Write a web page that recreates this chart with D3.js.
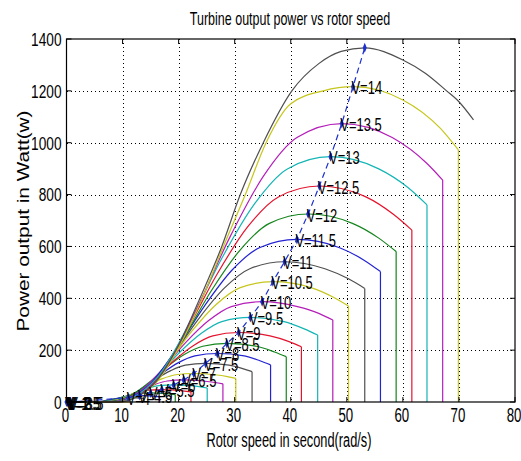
<!DOCTYPE html>
<html>
<head>
<meta charset="utf-8">
<script src="https://cdn.jsdelivr.net/npm/d3@7"></script>
<style>
  body { margin: 0; background: #fff; }
  svg { display: block; font-family: "Liberation Sans", Arial, sans-serif; }
</style>
</head>
<body>
<div id="chart"></div>
<script>
// wind speeds of each curve (m/s)
const speeds = [1, 1.5, 2, 2.5, 3, 3.5, 4, 4.5, 5, 5.5, 6, 6.5, 7, 7.5, 8, 8.5, 9, 9.5,
                10, 10.5, 11, 11.5, 12, 12.5, 13, 13.5, 14, 14.5];

// [rotor speed, power], one list per wind speed
const curvePoints = [
  [[0,0],[1,0]],
  [[0,0],[1.5,0]],
  [[0,0],[2.6,0]],
  [[0,0],[5.4,0]],
  [[0,0],[8.2,0]],
  [[0,0],[11,0]],
  [[0,0],[5,0],[8,10],[11,17],[12.4,16],[13.8,14],[13.8,0]],
  [[0,0],[5.5,0],[9.3,15],[11.5,24],[13,25],[14.8,24],[16.6,20],[16.6,0]],
  [[0,0],[5.5,0],[8.8,11],[10.3,21],[11.7,28],[13.1,33],[15,35],[17.2,33],[19.4,28],[19.4,0]],
  [[0,0],[6,0],[8.2,5],[9.9,16],[11.5,28],[13.2,39],[14.8,46],[17,48],[19.6,46],[22.2,39],[22.2,0]],
  [[0,0],[6,0],[8.6,7],[10.6,21],[12.6,39],[14.5,53],[16.5,63],[19.1,66],[22.1,63],[25.1,54],[25.1,0]],
  [[0,0],[6.5,0],[9.4,9],[11.5,28],[13.7,50],[15.9,69],[18,81],[20.9,85],[24.4,81],[27.9,70],[27.9,0]],
  [[0,0],[6.5,0],[9.7,11],[12.2,36],[14.6,65],[17,89],[19.5,105],[22.7,110],[26.5,105],[28.7,98],[30.2,91],[30.2,0]],
  [[0,0],[7,0],[10.6,15],[13.2,48],[15.9,88],[18.6,121],[21.2,142],[24.8,149],[29,142],[31.4,129],[33.1,117],[33.1,0]],
  [[0,0],[7,0],[11,19],[14,61],[17,110],[19.9,151],[22.9,178],[26.9,187],[31.7,178],[34.5,159],[36.4,143],[36.4,0]],
  [[0,0],[7,0],[11.3,23],[14.6,73],[17.8,133],[21,183],[24.3,215],[28.6,226],[33.9,215],[37.1,193],[39.2,175],[39.2,0]],
  [[0,0],[7.5,0],[12.1,27],[15.6,87],[19.1,158],[22.6,217],[26.1,255],[30.7,268],[36.3,255],[39.7,233],[41.9,213],[41.9,0]],
  [[0,0],[7.5,0],[12.6,33],[16.4,106],[20.2,192],[24,264],[27.7,310],[32.8,326],[38.8,310],[42.4,282],[44.8,258],[44.8,0]],
  [[0,0],[7.5,0],[13,39],[17.1,126],[21.2,228],[25.3,313],[29.4,368],[34.9,387],[41.2,368],[45,342],[47.5,316],[47.5,0]],
  [[0,0],[8,0],[13.8,46],[18.1,151],[22.4,274],[26.7,376],[31,441],[36.8,464],[43.6,441],[47.6,404],[50.3,370],[50.3,0]],
  [[0,0],[8,0],[14.2,54],[18.8,176],[23.5,319],[28.1,438],[32.7,514],[38.9,541],[46.1,514],[50.3,475],[53.2,438],[53.2,0]],
  [[0,0],[8,0],[14.6,63],[19.6,204],[24.6,370],[29.5,508],[34.5,596],[41.1,627],[48.6,596],[53,548],[56,503],[56,0]],
  [[0,0],[8.5,0],[15.4,73],[20.6,236],[25.8,428],[31,587],[36.2,689],[43.1,725],[51,689],[55.7,632],[58.8,580],[58.8,0]],
  [[0,0],[8.5,0],[15.8,83],[21.3,271],[26.8,491],[32.3,675],[37.8,791],[45.1,833],[53.4,791],[58.3,724],[61.6,663],[61.6,0]],
  [[0,0],[8.5,0],[16.2,95],[22,307],[27.8,558],[33.6,766],[39.4,899],[47.1,946],[55.7,899],[60.9,827],[64.3,760],[64.3,0]],
  [[0,0],[9,0],[17,107],[23,349],[29.1,634],[35.1,870],[41.1,1020],[49.1,1074],[58.1,1020],[64.3,920],[67.1,856],[67.1,0]],
  [[0,0],[9,0],[13,25],[16,75],[20,210],[24,390],[28,600],[31.9,800],[35.6,1000],[40,1150],[45.8,1200],[51.1,1216],[60,1165],[66.7,1055],[69.9,972],[69.9,0]],
  [[0,0],[9,0],[13,25],[16,80],[20,220],[24,410],[27.7,600],[31,800],[35.1,1000],[40.2,1200],[45,1305],[49,1352],[53.2,1366],[60,1319],[64,1268],[67.8,1200],[70,1158],[72.6,1088]]
];

// maximum power point of each curve
const peakX = [0, 0.15, 0.3, 0.45, 0.6, 0.75, 11, 13, 15, 17, 19.1, 20.9, 22.7, 24.8, 26.9, 28.6,
               30.7, 32.8, 34.9, 36.8, 38.9, 41.1, 43.1, 45.1, 47.1, 49.1, 51.1, 53.2];
const peakP = [0, 0, 0, 0, 0, 0, 17, 25, 35, 48, 66, 85, 110, 149, 187, 226,
               268, 326, 387, 464, 541, 627, 725, 833, 946, 1074, 1216, 1366];

const xTicks = [0, 10, 20, 30, 40, 50, 60, 70, 80];
const yTicks = [0, 200, 400, 600, 800, 1000, 1200, 1400];

const lineColors = ["#2323d2", "#15861d", "#e4142e", "#14b5b5", "#b41eb9", "#c6c61c", "#4f4f4f"];

var width = 521, height = 461;
var plot = {left: 66.5, right: 515, top: 39, bottom: 402};

var xScale = d3.scaleLinear().domain([0, 80]).range([plot.left, plot.right]);
var yScale = d3.scaleLinear().domain([0, 1400]).range([plot.bottom, plot.top]);

const svg = d3.select("#chart").append("svg")
  .attr("width", width)
  .attr("height", height);

svg.append("rect").attr("width", width).attr("height", height).attr("fill", "#fff");

// narrow text: the picture's lettering is squeezed sideways
function narrowText(str, x, y, size, sx, anchor) {
  return svg.append("text")
    .attr("transform", "translate(" + x + "," + y + ") scale(" + sx + ",1)")
    .attr("text-anchor", anchor)
    .style("font-size", size + "px")
    .attr("fill", "#000")
    .text(str);
}

// dotted grid
var grid = svg.append("g").attr("stroke", "#000").attr("stroke-width", 1)
  .attr("stroke-dasharray", "1,3").attr("shape-rendering", "crispEdges");
grid.selectAll("line.gx")
  .data(xTicks.slice(1, -1))
  .enter().append("line")
  .attr("x1", d => Math.round(xScale(d)) + 0.5).attr("x2", d => Math.round(xScale(d)) + 0.5)
  .attr("y1", plot.top).attr("y2", plot.bottom);
grid.selectAll("line.gy")
  .data(yTicks.slice(1, -1))
  .enter().append("line")
  .attr("y1", d => Math.round(yScale(d)) + 0.5).attr("y2", d => Math.round(yScale(d)) + 0.5)
  .attr("x1", plot.left).attr("x2", plot.right);

// power curves: smooth part, then the straight cut-off drop
var smooth = d3.line()
  .x(d => xScale(d[0])).y(d => yScale(d[1]))
  .curve(d3.curveMonotoneX);
var straight = d3.line()
  .x(d => xScale(d[0])).y(d => yScale(d[1]));

var curves = svg.append("g").attr("fill", "none").attr("stroke-width", 1.2);
curvePoints.forEach(function(pts, i) {
  var n = pts.length;
  var hasDrop = n > 2 && pts[n - 1][1] === 0 && pts[n - 1][0] === pts[n - 2][0];
  var body = hasDrop ? pts.slice(0, n - 1) : pts;
  var colour = lineColors[i % lineColors.length];
  curves.append("path").attr("d", smooth(body)).attr("stroke", colour);
  if (hasDrop) {
    curves.append("path").attr("d", straight(pts.slice(n - 2))).attr("stroke", colour);
  }
});

// maximum power locus
var peaks = peakX.map((x, i) => [x, peakP[i]]);
svg.append("path")
  .attr("d", straight(peaks))
  .attr("fill", "none")
  .attr("stroke", "#1c2fd0")
  .attr("stroke-width", 1.2)
  .attr("stroke-dasharray", "6,4");

svg.selectAll("path.mk")
  .data(peaks)
  .enter().append("path")
  .attr("class", "mk")
  .attr("d", d3.symbol(d3.symbolDiamond, 22))
  .attr("transform", d => "translate(" + xScale(d[0]) + "," + yScale(d[1]) + ") scale(0.8,1.15)")
  .attr("fill", "#1c2fd0");

// V= labels (the top curve carries none)
peaks.slice(0, -1).forEach(function(d, i) {
  narrowText("V=" + speeds[i], xScale(d[0]) - 1.5, yScale(d[1]) + 7.5, 18, 0.72, "start");
});

// axes box and inward ticks
svg.append("rect")
  .attr("x", plot.left).attr("y", plot.top)
  .attr("width", plot.right - plot.left).attr("height", plot.bottom - plot.top)
  .attr("fill", "none").attr("stroke", "#000").attr("stroke-width", 1.2);

var ticks = svg.append("g").attr("stroke", "#000").attr("stroke-width", 1);
xTicks.forEach(function(t) {
  var x = xScale(t);
  ticks.append("line").attr("x1", x).attr("x2", x).attr("y1", plot.bottom).attr("y2", plot.bottom - 5);
  ticks.append("line").attr("x1", x).attr("x2", x).attr("y1", plot.top).attr("y2", plot.top + 5);
  narrowText(t, x - 1, 422, 19.5, 0.68, "middle");
});
yTicks.forEach(function(t) {
  var y = yScale(t);
  ticks.append("line").attr("y1", y).attr("y2", y).attr("x1", plot.left).attr("x2", plot.left + 5);
  ticks.append("line").attr("y1", y).attr("y2", y).attr("x1", plot.right).attr("x2", plot.right - 5);
  narrowText(t, 61.5, y + 6.8, 19, 0.72, "end");
});

// titles
narrowText("Turbine output power vs rotor speed", 290, 24.5, 18, 0.695, "middle");
narrowText("Rotor speed in second(rad/s)", 289, 446.5, 21, 0.61, "middle");
svg.append("text")
  .attr("transform", "translate(28.5,221) scale(0.8,1) rotate(-90)")
  .attr("text-anchor", "middle")
  .style("font-size", "20.8px")
  .attr("fill", "#000")
  .text("Power output in Watt(w)");
</script>
</body>
</html>
